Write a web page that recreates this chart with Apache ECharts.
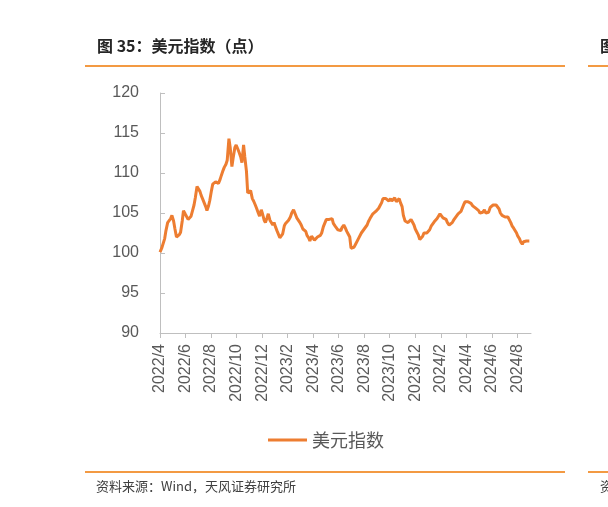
<!DOCTYPE html>
<html><head><meta charset="utf-8">
<script src="https://cdn.jsdelivr.net/npm/echarts@6/dist/echarts.min.js"></script>
<style>html,body{margin:0;padding:0;background:#fff}#c{width:608px;height:507px}</style>
</head><body><div id="c"></div>
<script>
const title = '图 35：美元指数（点）';
const source = '资料来源：Wind，天风证券研究所';
const seriesName = '美元指数';
const dates = [
'2022-04-01','2022-04-05','2022-04-08','2022-04-12','2022-04-15','2022-04-19','2022-04-22','2022-04-26','2022-04-29',
'2022-05-03','2022-05-06','2022-05-10','2022-05-13','2022-05-17','2022-05-20','2022-05-24','2022-05-27','2022-05-31',
'2022-06-03','2022-06-07','2022-06-10','2022-06-14','2022-06-17','2022-06-21','2022-06-24','2022-06-28','2022-07-01',
'2022-07-05','2022-07-08','2022-07-12','2022-07-15','2022-07-19','2022-07-22','2022-07-26','2022-07-29',
'2022-08-02','2022-08-05','2022-08-09','2022-08-12','2022-08-16','2022-08-19','2022-08-23','2022-08-26','2022-08-30',
'2022-09-02','2022-09-06','2022-09-09','2022-09-13','2022-09-16','2022-09-20','2022-09-23','2022-09-27','2022-09-30',
'2022-10-04','2022-10-07','2022-10-11','2022-10-14','2022-10-18','2022-10-21','2022-10-25','2022-10-28',
'2022-11-01','2022-11-04','2022-11-08','2022-11-11','2022-11-15','2022-11-18','2022-11-22','2022-11-25','2022-11-29',
'2022-12-02','2022-12-06','2022-12-09','2022-12-13','2022-12-16','2022-12-20','2022-12-23','2022-12-27','2022-12-30',
'2023-01-03','2023-01-06','2023-01-10','2023-01-13','2023-01-17','2023-01-20','2023-01-24','2023-01-27','2023-01-31',
'2023-02-03','2023-02-07','2023-02-10','2023-02-14','2023-02-17','2023-02-21','2023-02-24','2023-02-28',
'2023-03-03','2023-03-07','2023-03-10','2023-03-14','2023-03-17','2023-03-21','2023-03-24','2023-03-28','2023-03-31',
'2023-04-04','2023-04-07','2023-04-11','2023-04-14','2023-04-18','2023-04-21','2023-04-25','2023-04-28',
'2023-05-02','2023-05-05','2023-05-09','2023-05-12','2023-05-16','2023-05-19','2023-05-23','2023-05-26','2023-05-30',
'2023-06-02','2023-06-06','2023-06-09','2023-06-13','2023-06-16','2023-06-20','2023-06-23','2023-06-27','2023-06-30',
'2023-07-04','2023-07-07','2023-07-11','2023-07-14','2023-07-18','2023-07-21','2023-07-25','2023-07-28',
'2023-08-01','2023-08-04','2023-08-08','2023-08-11','2023-08-15','2023-08-18','2023-08-22','2023-08-25','2023-08-29',
'2023-09-01','2023-09-05','2023-09-08','2023-09-12','2023-09-15','2023-09-19','2023-09-22','2023-09-26','2023-09-29',
'2023-10-03','2023-10-06','2023-10-10','2023-10-13','2023-10-17','2023-10-20','2023-10-24','2023-10-27','2023-10-31',
'2023-11-03','2023-11-07','2023-11-10','2023-11-14','2023-11-17','2023-11-21','2023-11-24','2023-11-28',
'2023-12-01','2023-12-05','2023-12-08','2023-12-12','2023-12-15','2023-12-19','2023-12-22','2023-12-26','2023-12-29',
'2024-01-02','2024-01-05','2024-01-09','2024-01-12','2024-01-16','2024-01-19','2024-01-23','2024-01-26','2024-01-30',
'2024-02-02','2024-02-06','2024-02-09','2024-02-13','2024-02-16','2024-02-20','2024-02-23','2024-02-27',
'2024-03-01','2024-03-05','2024-03-08','2024-03-12','2024-03-15','2024-03-19','2024-03-22','2024-03-26','2024-03-29',
'2024-04-02','2024-04-05','2024-04-09','2024-04-12','2024-04-16','2024-04-19','2024-04-23','2024-04-26','2024-04-30',
'2024-05-03','2024-05-07','2024-05-10','2024-05-14','2024-05-17','2024-05-21','2024-05-24','2024-05-28','2024-05-31',
'2024-06-04','2024-06-07','2024-06-11','2024-06-14','2024-06-18','2024-06-21','2024-06-25','2024-06-28',
'2024-07-02','2024-07-05','2024-07-09','2024-07-12','2024-07-16','2024-07-19','2024-07-23','2024-07-26','2024-07-30',
'2024-08-02','2024-08-06','2024-08-09','2024-08-13','2024-08-16','2024-08-20','2024-08-23','2024-08-27','2024-08-30'
];
const values = [
100.1,100.6,100.8,101.8,102.8,103.8,103.7,104.3,104.7,
104.0,103.1,102.0,102.0,102.3,102.6,104.0,105.3,104.9,
105.1,104.2,104.2,104.6,105.2,106.0,106.9,108.3,108.2,
107.7,107.2,106.7,106.8,105.8,105.3,105.9,106.6,
107.8,108.6,108.7,108.9,108.8,108.7,109.2,109.7,110.3,
110.7,111.1,111.6,114.3,113.2,110.8,111.9,113.2,113.5,
113.0,112.6,112.0,111.3,113.5,112.0,110.2,107.5,
107.3,107.8,106.8,106.5,106.0,105.6,105.0,104.6,105.4,
104.9,104.1,103.8,104.4,104.9,104.1,104.1,103.5,103.8,
103.2,102.8,102.3,101.9,101.9,102.4,103.4,103.7,103.9,
104.1,104.5,105.0,105.4,105.3,104.4,104.2,103.8,
103.5,103.0,103.0,102.7,102.2,101.9,101.5,102.1,101.9,
101.6,101.6,102.0,102.0,102.2,102.5,103.3,103.5,
104.2,104.3,104.2,104.0,104.3,103.7,103.4,103.2,102.9,
103.0,102.8,103.2,103.5,103.2,102.7,102.4,102.0,100.6,
100.4,100.7,101.1,101.3,101.8,102.0,102.5,102.6,
103.0,103.2,103.5,103.9,104.3,104.4,104.9,104.9,105.2,
105.4,105.6,105.9,106.3,106.8,106.9,106.8,107.0,106.5,
106.8,106.5,106.7,106.9,106.4,106.3,106.8,106.3,105.8,
104.7,104.0,104.0,103.8,103.6,104.2,103.9,103.5,
103.0,102.6,102.3,101.7,101.5,102.1,102.5,102.5,102.5,
102.7,102.9,103.4,103.5,103.9,103.9,104.3,104.5,104.9,
104.7,104.4,104.5,104.2,103.8,103.5,103.3,103.8,
104.1,104.4,104.6,104.9,104.8,105.2,105.3,106.1,106.4,
106.4,106.4,106.5,106.2,105.9,105.9,105.6,105.4,105.3,
105.0,104.9,105.1,105.4,105.0,104.8,105.1,105.7,105.8,
106.0,106.1,106.0,105.8,105.5,105.0,104.7,104.5,
104.5,104.5,104.5,104.3,103.8,103.4,103.1,102.9,102.5,
102.1,101.8,101.4,101.1,101.4,101.4,101.5,101.4,101.5
];
const xTicks = ['2022-04-01','2022-06-01','2022-08-01','2022-10-01','2022-12-01','2023-02-01','2023-04-01','2023-06-01',
'2023-08-01','2023-10-01','2023-12-01','2024-02-01','2024-04-01','2024-06-01','2024-08-01'];
const xStart = '2022-04-01', xEnd = '2024-09-03';
const yMin = 90, yMax = 120, yStep = 5;

function mIdx(s){const p=s.split('-').map(Number);const dim=new Date(p[0],p[1],0).getDate();return (p[0]-2022)*12+(p[1]-4)+(p[2]-1)/dim;}
function mLabel(v){const t=Math.round(v)+3;return (2022+Math.floor(t/12))+'/'+(t%12+1);}
const data = dates.map((d,i)=>[mIdx(d),values[i]]);
const tickVals = xTicks.map(mIdx);

const chart = echarts.init(document.getElementById('c'),null,{renderer:'canvas'});
const orange = '#ED7D31', rule = '#F39A43';
const font = '"Liberation Sans", Arial, "Noto Sans CJK SC", sans-serif';
const cjk = '"Noto Sans CJK SC", sans-serif';
chart.setOption({
  animation:false,
  backgroundColor:'#fff',
  textStyle:{fontFamily:font},
  grid:{left:160,right:77,top:93,bottom:174,containLabel:false},
  xAxis:{type:'value',min:mIdx(xStart),max:mIdx(xEnd),
    axisLine:{show:true,lineStyle:{color:'#BFBFBF',width:1}},
    axisTick:{show:true,inside:false,length:5,customValues:tickVals,lineStyle:{color:'#BFBFBF'}},
    axisLabel:{customValues:tickVals,rotate:90,margin:11,fontSize:16,color:'#595959',fontFamily:font,formatter:mLabel},
    splitLine:{show:false}},
  yAxis:{type:'value',min:yMin,max:yMax,interval:yStep,
    axisLine:{show:true,lineStyle:{color:'#BFBFBF',width:1}},
    axisTick:{show:true,inside:true,length:5,lineStyle:{color:'#BFBFBF'}},
    axisLabel:{margin:21,fontSize:16,color:'#595959',fontFamily:font},
    splitLine:{show:false}},
  legend:{data:[seriesName],left:263,top:426,icon:'rect',itemWidth:39,itemHeight:3,itemGap:6,
    textStyle:{fontSize:18,color:'#595959',fontFamily:cjk}},
  series:[{name:seriesName,type:'line',data:data,showSymbol:false,symbol:'none',
    lineStyle:{color:orange,width:3},itemStyle:{color:orange}}],
  graphic:[
    {type:'text',left:97,top:38,style:{text:title,fontSize:16,fontWeight:'bold',fill:'#262626',fontFamily:cjk}},
    {type:'rect',shape:{x:85,y:65,width:480,height:2},style:{fill:rule}},
    {type:'rect',shape:{x:588,y:65,width:20,height:2},style:{fill:rule}},
    {type:'text',left:600,top:38,style:{text:'图',fontSize:16,fontWeight:'bold',fill:'#262626',fontFamily:cjk}},
    {type:'rect',shape:{x:85,y:471,width:480,height:2},style:{fill:rule}},
    {type:'rect',shape:{x:588,y:471,width:20,height:2},style:{fill:rule}},
    {type:'text',left:96,top:480,style:{text:source,fontSize:13,fill:'#404040',fontFamily:cjk}},
    {type:'text',left:600,top:480,style:{text:'资',fontSize:13,fill:'#404040',fontFamily:cjk}}
  ]
});
</script></body></html>
